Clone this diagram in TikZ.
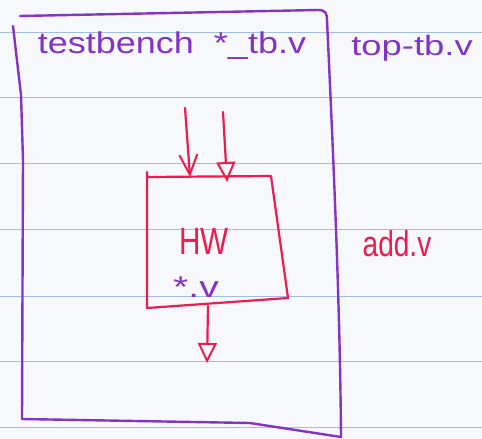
\documentclass[tikz,border=0pt]{standalone}
\usepackage{fontspec}
\setmainfont{Liberation Sans}
\usetikzlibrary{arrows.meta}
\definecolor{paper}{HTML}{F7F8FB}
\definecolor{rule}{HTML}{A3BCE0}
\definecolor{pen}{HTML}{8433C4}
\definecolor{marker}{HTML}{EC1C4C}
\tikzset{
  purpleline/.style={draw=pen, line width=2.4pt, line join=round, line cap=round},
  redline/.style={draw=marker, line width=2.2pt, line join=round, line cap=round},
  ruleline/.style={draw=rule, line width=1pt},
  purpletext/.style={text=pen, inner sep=0pt, anchor=center},
  redtext/.style={text=marker, inner sep=0pt, anchor=center},
  vhead/.style={-{Straight Barb[length=20pt, width=18pt, line width=2pt]}},
  thead/.style={-{Triangle[open, length=20pt, width=19pt, line width=2pt]}},
}
\begin{document}
\begin{tikzpicture}[x=1pt, y=-1pt]
\useasboundingbox (0,0) rectangle (482,439);
\fill[paper] (0,0) rectangle (482,439);
% ruled paper
\foreach \yy in {32,97,163,229,296,361,427} {
  \draw[ruleline] (0,\yy) -- (482,\yy);
}
% testbench box (purple)
\draw[purpleline] (20,16) -- (318,10) .. controls (326,10) and (327,14) .. (327,20)
  .. controls (333,150) and (340,300) .. (341,437)
  -- (250,423) -- (22,419) -- (23,160) -- (21,95) -- (13,26);
% texts
\node[purpletext] (tbtitle) at (172,46) {\fontsize{30}{30}\selectfont\scalebox{1.2}[1]{testbench\ \ *\_tb.v}};
\node[purpletext] (toptb) at (412,48) {\fontsize{28}{28}\selectfont\scalebox{1.3}[1]{top-tb.v}};
% HW box (red)
\coordinate (hwtl) at (147,177);
\coordinate (hwtr) at (271,176);
\coordinate (hwbr) at (288,298);
\coordinate (hwbl) at (147,308);
\draw[redline] (147,172) -- (hwbl) -- (hwbr) -- (hwtr) -- (hwtl);
\node[redtext] (hw) at (204,241) {\fontsize{38}{38}\selectfont\scalebox{0.78}[1]{HW}};
\node[purpletext] (starv) at (196,287) {\fontsize{30}{30}\selectfont\scalebox{1.3}[1]{*.v}};
\node[redtext] (addv) at (397,244) {\fontsize{36}{36}\selectfont\scalebox{0.78}[1]{add.v}};
% arrows
\coordinate (in1s) at (185,108);
\coordinate (in1e) at (190,177);
\coordinate (in2s) at (223,112);
\coordinate (in2e) at (227,182);
\coordinate (outs) at (208,306);
\coordinate (oute) at (207,363);
\draw[redline, vhead] (in1s) -- (in1e);
\draw[redline, thead] (in2s) -- (in2e);
\draw[redline, thead] (outs) -- (oute);
\end{tikzpicture}
\end{document}
